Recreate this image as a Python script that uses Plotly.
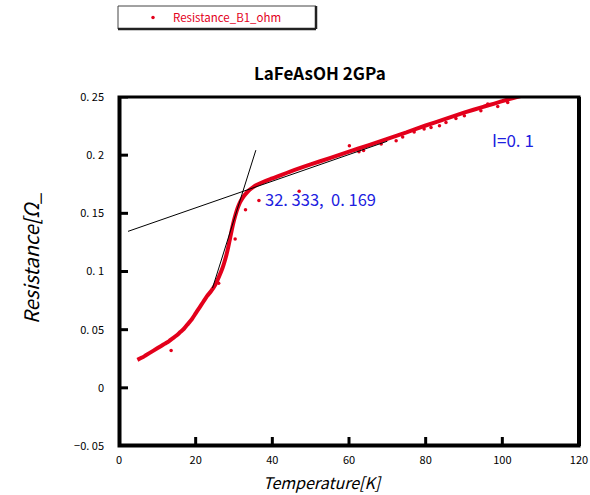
import plotly.graph_objects as go

# Resistance vs temperature, LaFeAsOH at 2 GPa (I = 0.1)
temperature_k = [4.8, 6, 7, 9, 11, 12, 13, 14, 15, 16, 17, 18, 19, 20, 21, 22, 23, 24, 25,
                 26, 27, 28, 28.5, 29, 29.5, 30, 30.5, 31, 31.5, 32, 32.5, 33, 34, 35, 36, 38,
                 40, 45, 50, 55, 60, 65, 70, 75, 80, 85, 90, 95, 100, 104.8]
resistance_ohm = [0.024, 0.026, 0.028, 0.032, 0.036, 0.038, 0.040, 0.0425, 0.045, 0.048,
                  0.051, 0.055, 0.059, 0.064, 0.069, 0.074, 0.079, 0.083, 0.088, 0.095,
                  0.103, 0.114, 0.121, 0.129, 0.137, 0.144, 0.150, 0.155, 0.159, 0.162,
                  0.1645, 0.1665, 0.170, 0.1725, 0.1745, 0.1775,
                  0.180, 0.1863, 0.192, 0.1975, 0.203, 0.2085, 0.214, 0.2195, 0.2255,
                  0.231, 0.2365, 0.2415, 0.2465, 0.2508]

# scattered readings off the main band
stray_t = [13.6, 26.0, 30.3, 33.0, 36.5, 47.0, 60.1, 62.6, 63.8, 68.4, 72.3, 74.0,
           77.0, 79.6, 81.4, 83.6, 85.3, 87.9, 90.1, 94.4, 96.2, 98.8, 101.4]
stray_r = [0.032, 0.090, 0.128, 0.153, 0.161, 0.169, 0.208, 0.203, 0.204, 0.2095,
           0.2123, 0.2157, 0.2200, 0.2224, 0.2238, 0.2253, 0.2280, 0.2316, 0.2339,
           0.2382, 0.2440, 0.2419, 0.2453]

# tangent lines used to locate the transition onset
normal_fit_t = [2.35, 70.0]
normal_fit_r = [0.1345, 0.212]
transition_fit_t = [24.4, 35.7]
transition_fit_r = [0.0858, 0.2043]
onset_t = 32.333
onset_r = 0.169

x_range = [0, 120]
y_range = [-0.05, 0.25]
x_ticks = [0, 20, 40, 60, 80, 100, 120]
y_ticks = [-0.05, 0, 0.05, 0.1, 0.15, 0.2, 0.25]
y_tick_text = ["\u22120. 05", "0", "0. 05", "0. 1", "0. 15", "0. 2", "0. 25"]

RED = "#e3001b"
BLUE = "#2020e0"
FONT = "Noto Sans CJK JP, sans-serif"

PLOT_W, PLOT_H = 460, 349
TICK_LEN = 9


# pixel helpers for paper-referenced decorations (plot area 119..579 x 97..446)
def px_x(p):
    return (p - 119) / PLOT_W


def px_y(p):
    return (446 - p) / PLOT_H


fig = go.Figure()

fig.add_trace(go.Scatter(
    x=temperature_k, y=resistance_ohm, mode="lines",
    line=dict(color=RED, width=4, shape="spline", smoothing=0.6),
    showlegend=False, hoverinfo="skip"))

fig.add_trace(go.Scatter(
    x=stray_t, y=stray_r, mode="markers", name="Resistance_B1_ohm",
    marker=dict(color=RED, size=3.5)))

fig.add_trace(go.Scatter(
    x=normal_fit_t, y=normal_fit_r, mode="lines",
    line=dict(color="black", width=1), showlegend=False))
fig.add_trace(go.Scatter(
    x=transition_fit_t, y=transition_fit_r, mode="lines",
    line=dict(color="black", width=1), showlegend=False))

# inward tick marks along the left and bottom axes
dx = TICK_LEN * (x_range[1] - x_range[0]) / PLOT_W
dy = TICK_LEN * (y_range[1] - y_range[0]) / PLOT_H
tick_x, tick_y = [], []
for t in x_ticks:
    tick_x += [t, t, None]
    tick_y += [y_range[0], y_range[0] + dy, None]
for v in y_ticks:
    tick_x += [x_range[0], x_range[0] + dx, None]
    tick_y += [v, v, None]
fig.add_trace(go.Scatter(x=tick_x, y=tick_y, mode="lines",
                         line=dict(color="black", width=3),
                         showlegend=False, hoverinfo="skip"))
# heavy left and bottom axis lines
fig.add_trace(go.Scatter(x=[x_range[0], x_range[0], x_range[1]],
                         y=[y_range[1], y_range[0], y_range[0]], mode="lines",
                         line=dict(color="black", width=5),
                         showlegend=False, hoverinfo="skip"))

onset_label = f"{onset_t:.3f},  {onset_r:.3f}".replace(".", ". ")
fig.add_annotation(x=37.6, y=0.162, text=onset_label, showarrow=False,
                   xanchor="left", yanchor="middle",
                   font=dict(family=FONT, size=16.5, color=BLUE))
fig.add_annotation(x=102.8, y=0.2138, text="I=0. 1", showarrow=False,
                   xanchor="center", yanchor="middle",
                   font=dict(family=FONT, size=17, color=BLUE))

fig.add_annotation(xref="paper", yref="paper", x=px_x(320), y=px_y(73),
                   text="<b>LaFeAsOH 2GPa</b>", showarrow=False,
                   xanchor="center", yanchor="middle",
                   font=dict(family=FONT, size=17, color="black"))
fig.add_annotation(xref="paper", yref="paper", x=px_x(322), y=px_y(482),
                   text="<i>Temperature[K]</i>", showarrow=False,
                   xanchor="center", yanchor="middle",
                   font=dict(family=FONT, size=16, color="black"))
fig.add_annotation(xref="paper", yref="paper", x=px_x(30), y=px_y(258),
                   text="<i>Resistance[\u03a9_</i>", showarrow=False, textangle=-90,
                   xanchor="center", yanchor="middle",
                   font=dict(family=FONT, size=20, color="black"))

# plot frame
fig.add_shape(type="rect", xref="paper", yref="paper", x0=0, x1=1, y0=0, y1=1,
              line=dict(color="black", width=3), layer="above")
fig.add_shape(type="line", xref="paper", yref="paper", x0=1, x1=1, y0=0, y1=1,
              line=dict(color="black", width=4), layer="above")

# legend box with drop shadow
lx0, lx1 = px_x(118), px_x(316)
ly0, ly1 = px_y(29), px_y(6)
fig.add_shape(type="rect", xref="paper", yref="paper", x0=lx0, x1=lx1, y0=ly0, y1=ly1,
              line=dict(color="#444", width=1))
fig.add_shape(type="line", xref="paper", yref="paper", x0=lx0, x1=lx1, y0=ly0, y1=ly0,
              line=dict(color="#222", width=2.5))
fig.add_shape(type="line", xref="paper", yref="paper", x0=lx1, x1=lx1, y0=ly0, y1=ly1,
              line=dict(color="#222", width=2.5))

fig.update_layout(
    width=590, height=495,
    margin=dict(l=119, r=11, t=97, b=49, autoexpand=False),
    paper_bgcolor="white", plot_bgcolor="rgba(0,0,0,0)",
    font=dict(family=FONT, size=11, color="black"),
    showlegend=True,
    legend=dict(xref="container", yref="container", x=133 / 590, y=1 - 17.5 / 495,
                xanchor="left", yanchor="middle", bgcolor="rgba(0,0,0,0)",
                borderwidth=0, font=dict(family=FONT, size=11.5, color=RED)),
    xaxis=dict(range=x_range, tickmode="array", tickvals=x_ticks, ticks="",
               showgrid=False, zeroline=False, showline=False,
               ticklabelstandoff=6, tickfont=dict(size=11)),
    yaxis=dict(range=y_range, tickmode="array", tickvals=y_ticks,
               ticktext=y_tick_text, ticks="",
               showgrid=False, zeroline=False, showline=False,
               ticklabelstandoff=14, tickfont=dict(size=11)),
)

fig.write_html("out.html")
